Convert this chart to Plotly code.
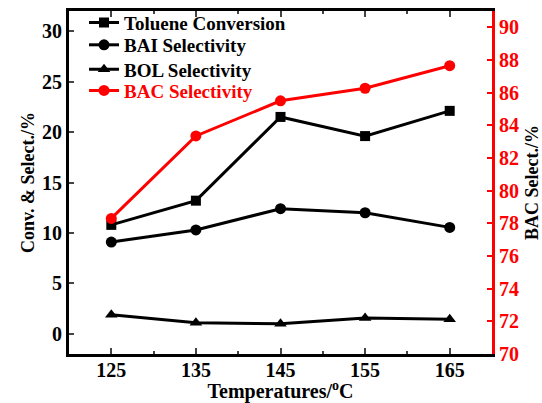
import plotly.graph_objects as go

temps = [125, 135, 145, 155, 165]
toluene_conv = [10.8, 13.2, 21.5, 19.6, 22.1]
bai_sel = [9.1, 10.3, 12.4, 12.0, 10.55]
bol_sel = [1.88, 1.09, 0.99, 1.58, 1.45]
bac_sel = [78.3, 83.35, 85.5, 86.27, 87.65]

FONT = "Liberation Serif"
RED = "#ff0000"

fig = go.Figure()
fig.add_trace(go.Scatter(x=temps, y=toluene_conv, name="Toluene Conversion", mode="lines+markers", legend="legend",
                         line=dict(color="black", width=3), marker=dict(symbol="square", size=10, color="black")))
fig.add_trace(go.Scatter(x=temps, y=bai_sel, name="BAI Selectivity", mode="lines+markers", legend="legend2",
                         line=dict(color="black", width=3), marker=dict(symbol="circle", size=11, color="black")))
fig.add_trace(go.Scatter(x=temps, y=bol_sel, name="BOL Selectivity", mode="lines+markers", legend="legend3",
                         line=dict(color="black", width=3), marker=dict(symbol="triangle-up", size=11, color="black")))
fig.add_trace(go.Scatter(x=temps, y=bac_sel, name="BAC Selectivity", mode="lines+markers", yaxis="y2", legend="legend4",
                         line=dict(color=RED, width=3), marker=dict(symbol="circle", size=11, color=RED)))

def leg(yc, color="black"):
    return dict(x=0.0355, y=yc, xanchor="left", yanchor="middle", bgcolor="rgba(0,0,0,0)",
                font=dict(family=FONT, size=19, weight="bold", color=color))

fig.update_layout(
    width=542, height=403,
    margin=dict(l=69, r=50, t=11, b=49, autoexpand=False),
    paper_bgcolor="white", plot_bgcolor="white",
    font=dict(family=FONT, size=19, color="black", weight="bold"),
    showlegend=True,
    legend=leg(0.966),
    legend2=leg(0.901),
    legend3=leg(0.830),
    legend4=leg(0.768, RED),
    xaxis=dict(range=[120, 170], tick0=125, dtick=10, ticks="inside", ticklen=6, tickwidth=2,
               minor=dict(ticks="inside", ticklen=3, tickwidth=2, dtick=5, tick0=120),
               showline=True, linecolor="black", linewidth=3, mirror="ticks", showgrid=False, zeroline=False,
               automargin=False, ticklabelstandoff=-4,
               tickfont=dict(family=FONT, size=20, weight="bold"),
               title=dict(text="Temperatures/<sup>o</sup>C", font=dict(family=FONT, size=20, weight="bold"))),
    yaxis=dict(range=[-2, 32], tick0=0, dtick=5, ticks="inside", ticklen=5, tickwidth=2,
               showline=True, linecolor="black", linewidth=3, showgrid=False, zeroline=False,
               automargin=False,
               tickfont=dict(family=FONT, size=20, weight="bold"),
               title=dict(text="Conv. &amp; Select./%", font=dict(family=FONT, size=18, weight="bold"), standoff=3)),
    yaxis2=dict(range=[70, 91], tick0=70, dtick=2, ticks="inside", ticklen=5, tickwidth=2, tickcolor=RED,
                overlaying="y", side="right",
                showline=True, linecolor=RED, linewidth=3, showgrid=False, zeroline=False,
                automargin=False,
                tickfont=dict(family=FONT, size=20, color=RED, weight="bold"),
                title=dict(text="BAC Select./%", font=dict(family=FONT, size=18, color="black", weight="bold"), standoff=10)),
)

fig.write_html("out.html")
